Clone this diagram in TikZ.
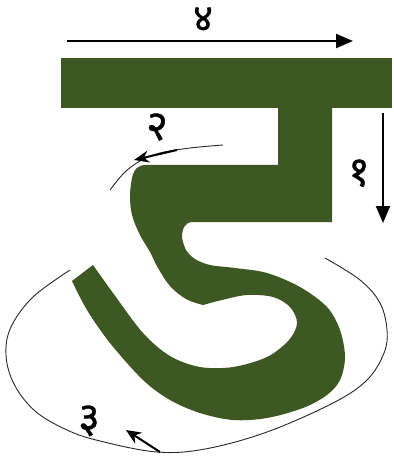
\documentclass[tikz,border=0pt]{standalone}
\usepackage{fontspec}
\newfontfamily\deva[Script=Devanagari,FakeBold=0.8]{Noto Sans}
\usetikzlibrary{arrows.meta}
\definecolor{leaf}{RGB}{62,88,36}
\definecolor{guide}{RGB}{40,40,40}
\tikzset{
  numlabel/.style={font=\deva\fontsize{42}{42}\selectfont, inner sep=0pt, anchor=base, text height=24pt, text depth=0pt},
  bigarrow/.style={line width=2pt, -{Triangle[length=17pt,width=14pt]}},
  thinguide/.style={guide, line width=0.9pt},
}
\begin{document}
\begin{tikzpicture}[x=1pt,y=-1pt]
\useasboundingbox[fill=white] (0,0) rectangle (393,462);
% top bar
\fill[leaf] (61,58) rectangle (392,108);
% stem and body
\fill[leaf] (278,100) -- (332,100) -- (332,222) -- (193,222)
  .. controls (185,222) and (182,228) .. (182,238)
  -- plot[smooth, tension=0.55] coordinates {(182,238) (186,250) (195,259) (210,265) (235,268) (267,273) (300,287) (327,307) (340,330) (345,357) (340,380) (327,395) (303,408) (267,418) (233,420) (200,413) (170,400) (143,380) (110,343) (87,310) (72,281)}
  -- (93,265)
  -- plot[smooth, tension=0.55] coordinates {(93,265) (113,293) (143,333) (170,356) (200,367) (233,367) (267,357) (289,340) (297,323) (290,307) (273,297) (247,295) (222,300) (203,305)}
  -- plot[smooth, tension=0.6] coordinates {(203,305) (186,299) (170,286) (158,268) (150,252) (140,235) (132,215) (130,195) (132,178)}
  .. controls (134,169) and (138,165) .. (146,165)
  -- (278,165) -- cycle;
% arrow 4
\coordinate (a4s) at (67,41);
\coordinate (a4e) at (353,41);
\draw[bigarrow] (a4s) -- (a4e);
\node[numlabel, font=\deva\fontsize{38}{38}\selectfont] (n4) at (203,31) {४};
% arrow 1
\coordinate (a1s) at (383,113);
\coordinate (a1e) at (383,223);
\draw[bigarrow] (a1s) -- (a1e);
\node[numlabel] (n1) at (359,186) {१};
% arrow 2
\draw[thinguide] plot[smooth, tension=0.6] coordinates {(223,145) (190,148) (160,153) (140,161) (124,173) (110,190)};
\coordinate (a2s) at (177,150);
\coordinate (a2e) at (134,160);
\draw[line width=2pt, -{Stealth[length=15pt,width=12pt]}] (a2s) -- (a2e);
\node[numlabel] (n2) at (157,140) {२};
% ellipse arc 3
\draw[thinguide] plot[smooth, tension=0.6] coordinates {(70,270) (33,297) (11,327) (6,355) (14,384) (35,411) (67,430) (100,441) (157,452) (205,449) (267,432) (333,403) (367,380) (384,353) (387,330) (380,303) (360,280) (325,258)};
\coordinate (a3s) at (160,452);
\coordinate (a3e) at (126,430);
\draw[line width=2pt, -{Stealth[length=15pt,width=13pt]}] (a3s) -- (a3e);
\node[numlabel] (n3) at (89,432) {३};
\end{tikzpicture}
\end{document}
